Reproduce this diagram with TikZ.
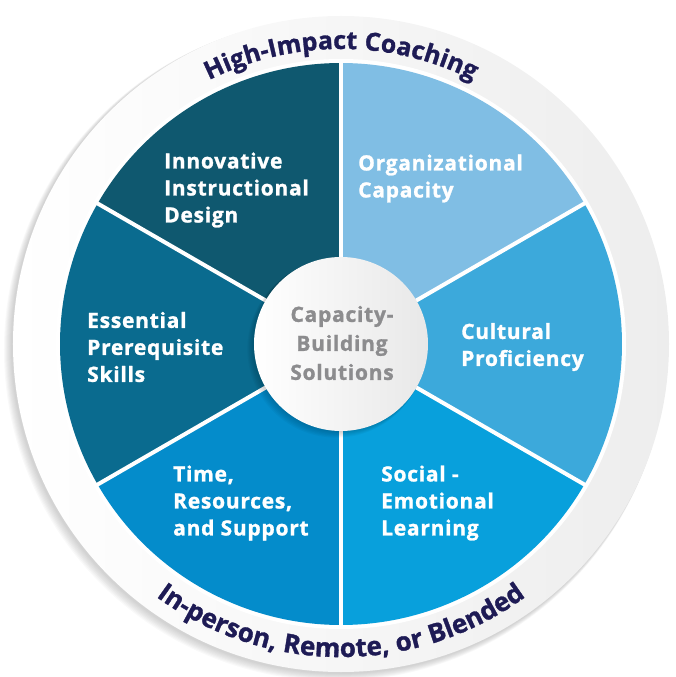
\documentclass[tikz,border=0pt]{standalone}
\usepackage{fontspec}
\setmainfont{Open Sans}
\usetikzlibrary{decorations.text}

\definecolor{innovcol}{HTML}{0F586F}
\definecolor{orgcol}{HTML}{80BEE4}
\definecolor{cultcol}{HTML}{3CA9DB}
\definecolor{socialcol}{HTML}{08A0DC}
\definecolor{timecol}{HTML}{048CCB}
\definecolor{esscol}{HTML}{0A6B8F}
\definecolor{ringtext}{HTML}{1E1B55}
\definecolor{centertext}{HTML}{8C8C8E}

\begin{document}
\begin{tikzpicture}[x=1pt,y=1pt,
    lbl/.style={anchor=west, align=left, inner sep=0pt, text=white,
      font=\bfseries\fontsize{21}{27}\selectfont\addfontfeatures{LetterSpace=3.5,FakeBold=1.2}},
    divider/.style={white, line width=4pt}]
    \useasboundingbox (-341,-333) rectangle (335,344);
    % outer ring with soft shadow
    \foreach \i in {1,...,8}
      \fill[black, opacity=0.025] (-1-0.6*\i,-1-0.6*\i) circle (328+0.4*\i);
    \shade[left color=white, right color=black!7] (0,0) circle (328);
    \fill[white] (0,0) circle (285);
    % sectors
    \fill[orgcol] (0,0) -- (30:281) arc (30:90:281) -- cycle;
    \fill[cultcol] (0,0) -- (-30:281) arc (-30:30:281) -- cycle;
    \fill[socialcol] (0,0) -- (-90:281) arc (-90:-30:281) -- cycle;
    \fill[timecol] (0,0) -- (210:281) arc (210:270:281) -- cycle;
    \fill[esscol] (0,0) -- (150:281) arc (150:210:281) -- cycle;
    \fill[innovcol] (0,0) -- (90:281) arc (90:150:281) -- cycle;
    \foreach \a in {30,90,150,210,270,330}
      \draw[divider] (0,0) -- (\a:282);
    % centre disc
    \foreach \i in {1,...,6}
      \fill[black, opacity=0.03] (-0.8*\i,-0.8*\i) circle (87+0.3*\i);
    \shade[left color=white, right color=black!9] (0,0) circle (87);
    \node[align=center, inner sep=0pt, text=centertext,
      font=\bfseries\fontsize{21}{29}\selectfont\addfontfeatures{LetterSpace=3.5,FakeBold=1.2}] (hub) at (1,1)
      {Capacity-\\Building\\Solutions};
    % sector labels
    \node[lbl] (innov) at (-177,154) {Innovative\\Instructional\\Design};
    \node[lbl] (org) at (17,165.5) {Organizational\\Capacity};
    \node[lbl] (ess) at (-254,-3) {Essential\\Prerequisite\\Skills};
    \node[lbl] (cult) at (120,-3) {Cultural\\Proficiency};
    \node[lbl] (time) at (-168,-159) {Time,\\Resources,\\and Support};
    \node[lbl] (social) at (40,-159) {Social -\\Emotional\\Learning};
    % ring texts
    \path[decorate, decoration={text along path, text align=center,
      text={|\bfseries\fontsize{25}{25}\selectfont\addfontfeatures{LetterSpace=2,FakeBold=1.2}\color{ringtext}|High-Impact Coaching}}]
      (150:295) arc (150:30:295);
    \path[decorate, decoration={text along path, text align=center,
      text={|\bfseries\fontsize{26}{26}\selectfont\addfontfeatures{LetterSpace=2,FakeBold=1.2}\color{ringtext}|In-person, Remote, or Blended}}]
      (210:313) arc (210:330:313);
\end{tikzpicture}
\end{document}
